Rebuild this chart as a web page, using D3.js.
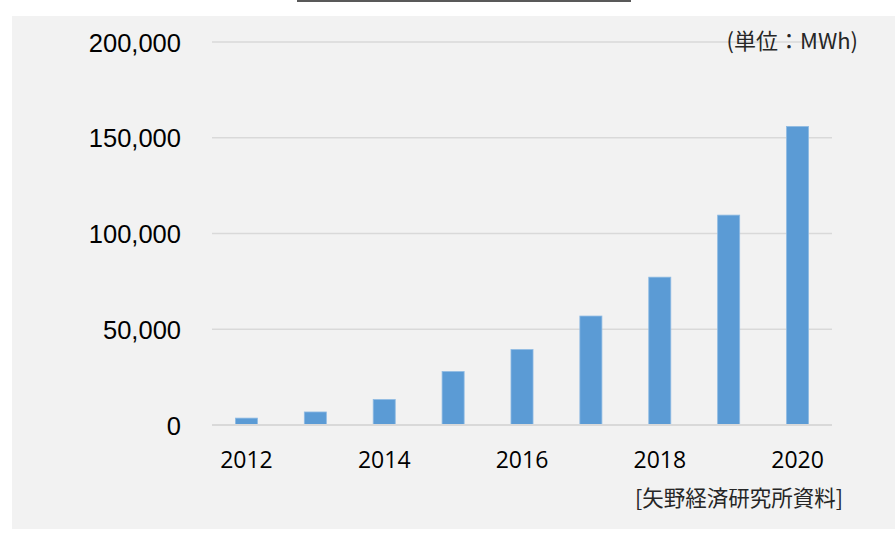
<!DOCTYPE html>
<html>
<head>
<meta charset="utf-8">
<script src="https://cdn.jsdelivr.net/npm/d3@7"></script>
<style>
  html, body { margin: 0; padding: 0; background: #ffffff; }
  svg { display: block; }
</style>
</head>
<body>
<svg id="chart" width="895" height="534"></svg>
<script>
// Annual volume by year (MWh)
const years = ["2012", "2013", "2014", "2015", "2016", "2017", "2018", "2019", "2020"];
const volumes = [3600, 6800, 13300, 27900, 39400, 56900, 77200, 109600, 155900];
const yTicks = [0, 50000, 100000, 150000, 200000];
const xTickLabels = ["2012", "2014", "2016", "2018", "2020"];
const unitLabel = "(単位：MWh)";
const sourceLabel = "[矢野経済研究所資料]";

const svg = d3.select("#chart");
const W = 895, H = 534;
const plot = { left: 212, right: 832, top: 42, bottom: 425 };

// Title rule at the top edge
svg.append("line")
  .attr("x1", 297).attr("x2", 631)
  .attr("y1", 1).attr("y2", 1)
  .attr("stroke", "#595959").attr("stroke-width", 2);

// Panel background
svg.append("rect")
  .attr("x", 12).attr("y", 16)
  .attr("width", W - 12).attr("height", 529 - 16)
  .attr("fill", "#f2f2f2");

const x = d3.scaleBand()
  .domain(years)
  .range([plot.left, plot.right])
  .paddingInner(0.68)
  .paddingOuter(0.34);

const y = d3.scaleLinear()
  .domain([0, 200000])
  .range([plot.bottom, plot.top]);

// Gridlines
svg.append("g")
  .selectAll("line")
  .data(yTicks.filter(d => d > 0))
  .join("line")
  .attr("x1", plot.left).attr("x2", plot.right)
  .attr("y1", d => y(d)).attr("y2", d => y(d))
  .attr("stroke", "#d9d9d9").attr("stroke-width", 1.5);

// Y axis labels
const fmt = d3.format(",");
const yAxis = d3.axisLeft(y).tickValues(yTicks).tickFormat(fmt).tickSize(0).tickPadding(0);
const yG = svg.append("g")
  .attr("transform", `translate(181,0)`)
  .call(yAxis);
yG.select(".domain").remove();
yG.selectAll("text")
  .attr("font-family", "'Liberation Sans', Arial, sans-serif")
  .attr("font-size", 25.5)
  .attr("fill", "#000")
  .attr("dy", "0.36em");

// Bars
svg.append("g")
  .selectAll("rect")
  .data(years.map((yr, i) => ({ yr, v: volumes[i] })))
  .join("rect")
  .attr("x", d => x(d.yr))
  .attr("width", x.bandwidth())
  .attr("y", d => y(d.v))
  .attr("height", d => y(0) - y(d.v))
  .attr("fill", "#5b9bd5")
  .attr("stroke", "#8fbbe3")
  .attr("stroke-width", 0.8);

// Baseline
svg.append("line")
  .attr("x1", plot.left).attr("x2", plot.right)
  .attr("y1", y(0)).attr("y2", y(0))
  .attr("stroke", "#d9d9d9").attr("stroke-width", 2);

// X axis labels (every other year)
const xAxis = d3.axisBottom(x).tickValues(xTickLabels).tickSize(0).tickPadding(0);
const xG = svg.append("g")
  .attr("transform", `translate(0,${y(0)})`)
  .call(xAxis);
xG.select(".domain").remove();
xG.selectAll("text")
  .attr("font-family", "'Open Sans', 'Noto Sans', sans-serif")
  .attr("font-size", 23)
  .attr("fill", "#000")
  .attr("dy", 0)
  .attr("y", 43);

// Unit label
svg.append("text")
  .attr("x", 858).attr("y", 49)
  .attr("text-anchor", "end")
  .attr("font-family", "'Noto Sans CJK JP', sans-serif")
  .attr("font-size", 22)
  .attr("fill", "#262626")
  .text(unitLabel);

// Source label
svg.append("text")
  .attr("x", 843).attr("y", 506)
  .attr("text-anchor", "end")
  .attr("font-family", "'Noto Sans CJK JP', sans-serif")
  .attr("font-size", 21.5)
  .attr("fill", "#262626")
  .text(sourceLabel);
</script>
</body>
</html>
